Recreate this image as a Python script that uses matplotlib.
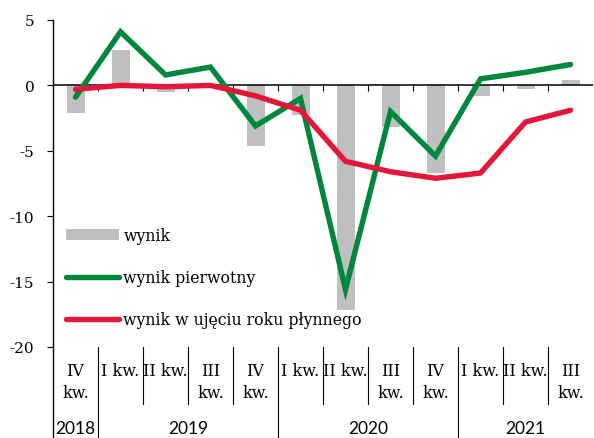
import matplotlib
matplotlib.use('Agg')
import matplotlib.pyplot as plt
import matplotlib.transforms as mtransforms
from matplotlib.lines import Line2D
from matplotlib.patches import Patch

plt.rcParams['axes.unicode_minus'] = False
plt.rcParams['font.family'] = ['DejaVu Serif']

# kwartaly (12 okresow) i lata
kwartaly = ['IV\nkw.', 'I kw.', 'II kw.', 'III\nkw.', 'IV\nkw.', 'I kw.',
            'II kw.', 'III\nkw.', 'IV\nkw.', 'I kw.', 'II kw.', 'III\nkw.']
lata = ['2018', '2019', '2020', '2021']
lata_od = [0, 1, 5, 9]
lata_do = [0, 4, 8, 11]

wynik = [-2.1, 2.7, -0.5, -0.2, -4.6, -2.3, -17.2, -3.2, -6.7, -0.8, -0.3, 0.4]
wynik_pierwotny = [-0.9, 4.1, 0.8, 1.4, -3.1, -1.0, -15.6, -2.0, -5.4, 0.5, 1.0, 1.6]
wynik_plynny = [-0.3, 0.0, -0.1, 0.0, -0.8, -1.9, -5.8, -6.6, -7.1, -6.7, -2.8, -1.9]

W, H = 594, 439
fig = plt.figure(figsize=(W / 100, H / 100), dpi=100)
ax = fig.add_axes([53 / W, 1 - 348 / H, 540 / W, 327 / H])

x = list(range(len(kwartaly)))
gray = '#bfbfbf'
green = '#00873c'
red = '#e3173b'

ax.bar(x, wynik, width=0.4, color=gray, zorder=1)
ax.axhline(0, color='black', lw=1.1, zorder=2)
ax.vlines([i + 0.5 for i in x[:-1]], 0, -0.45, color='black', lw=0.8, zorder=2)
ax.plot(x, wynik_pierwotny, color=green, lw=3.9, solid_capstyle='round',
        solid_joinstyle='miter', zorder=3)
ax.plot(x, wynik_plynny, color=red, lw=3.9, solid_capstyle='round',
        solid_joinstyle='miter', zorder=4)

ax.set_xlim(-0.5, 11.5)
ax.set_ylim(-20, 5)
ax.set_yticks([5, 0, -5, -10, -15, -20])
ax.set_xticks([])
for s in ['top', 'right', 'bottom']:
    ax.spines[s].set_visible(False)
ax.spines['left'].set_linewidth(1.0)
ax.tick_params(axis='y', length=4, width=0.8, pad=9.5, labelsize=11)

# etykiety osi X (dwa poziomy)
tr = mtransforms.blended_transform_factory(ax.transData, fig.transFigure)
def fy(py):
    return 1 - py / H

for i, lab in enumerate(kwartaly):
    lines = lab.split('\n')
    ax.text(i, fy(372), lines[0], transform=tr, ha='center', va='center',
            fontsize=11.5, clip_on=False)
    if len(lines) > 1:
        ax.text(i, fy(394), lines[1], transform=tr, ha='center', va='center',
                fontsize=11.5, clip_on=False)

for lab, a, b in zip(lata, lata_od, lata_do):
    ax.text((a + b) / 2, fy(429), lab, transform=tr, ha='center', va='center',
            fontsize=12.5, family='Lato', clip_on=False)

# separatory
for i in range(len(kwartaly)):
    xb = i - 0.5
    dol = 439 if i in lata_od else 405
    ax.add_line(Line2D([xb, xb], [fy(348), fy(dol)], transform=tr,
                       color='black', lw=0.8 if i > 0 else 1.0, clip_on=False))

handles = [Patch(facecolor=gray, edgecolor='none'),
           Line2D([], [], color=green, lw=3.9, solid_capstyle='round'),
           Line2D([], [], color=red, lw=3.9, solid_capstyle='round')]
labels = ['wynik', 'wynik pierwotny', 'wynik w ujęciu roku płynnego']
fig.legend(handles, labels, loc='upper left', bbox_to_anchor=(66 / W, fy(228)),
           frameon=False, fontsize=11.3, handlelength=3.35, handleheight=0.7,
           handletextpad=0.3, labelspacing=1.6, borderpad=0, borderaxespad=0)

fig.savefig('out.png', dpi=100)
